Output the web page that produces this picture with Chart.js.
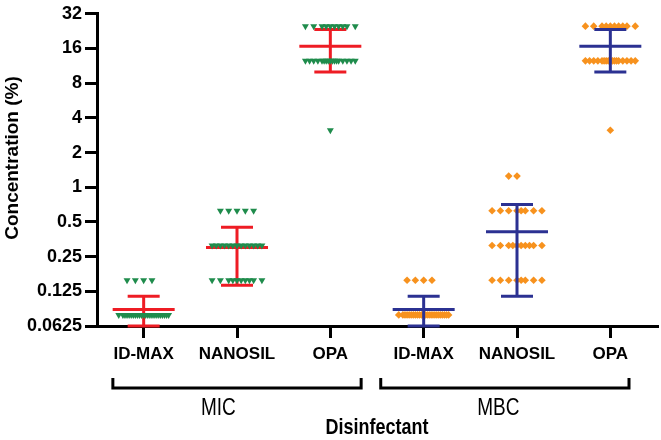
<!DOCTYPE html>
<html>
<head>
<meta charset="utf-8">
<script src="https://cdn.jsdelivr.net/npm/chart.js@4.4.1/dist/chart.umd.min.js"></script>
<style>
  html, body { margin: 0; padding: 0; background: #fff; }
  #wrap { width: 661px; height: 440px; }
</style>
</head>
<body>
<div id="wrap"><canvas id="dotplot" width="661" height="440"></canvas></div>
<script>
const categories = ['ID-MAX', 'NANOSIL', 'OPA', 'ID-MAX', 'NANOSIL', 'OPA'];
const groupNames = ['MIC', 'MBC'];
const yTicks = [0.0625, 0.125, 0.25, 0.5, 1, 2, 4, 8, 16, 32];
const yTickLabels = ['0.0625', '0.125', '0.25', '0.5', '1', '2', '4', '8', '16', '32'];

// rows of identical results: [concentration %, number of isolates]
const micIdMax = [[0.156, 4], [0.078, 24]];
const micNanosil = [[0.625, 5], [0.3125, 13], [0.156, 10]];
const micOpa = [[25, 10], [12.5, 17], [3.125, 1]];
const mbcIdMax = [[0.156, 4], [0.078, 24]];
const mbcNanosil = [[1.25, 2], [0.625, 8], [0.3125, 10], [0.156, 8]];
const mbcOpa = [[25, 10], [12.5, 17], [3.125, 1]];

// mean, mean + SD, mean - SD for each column
const micMean = [0.087, 0.30, 16.7];
const micUpper = [0.113, 0.45, 23.4];
const micLower = [0.0625, 0.141, 10.0];
const mbcMean = [0.087, 0.41, 16.7];
const mbcUpper = [0.113, 0.71, 23.4];
const mbcLower = [0.0625, 0.113, 10.0];

const FONT = '"Liberation Sans", Arial, sans-serif';
const GREEN = '#1f8c4c';
const ORANGE = '#f7921e';
const RED = '#ee1c24';
const NAVY = '#2b3192';

// horizontal spreading of tied points, like a scatter dot plot
const slotOrder = [0, -1, 1, -2, 2, -3, 3, 0.5, -0.5, 1.5, -1.5, 2.5, -2.5,
    0.25, -0.25, 0.75, -0.75, 1.25, -1.25, 1.75, -1.75, 2.25, -2.25, 2.75, -2.75];
const slot = 0.089;

function rowsToPoints(rows, col) {
    const pts = [];
    rows.forEach(([v, n]) => {
        for (let k = 0; k < n; k++) {
            pts.push({ x: col + slotOrder[k] * slot, y: v });
        }
    });
    return pts;
}

function dotSet(rows, col, isMic) {
    return {
        data: rowsToPoints(rows, col),
        pointStyle: isMic ? 'triangle' : 'rectRot',
        rotation: isMic ? 180 : 0,
        pointRadius: isMic ? 4 : 3.8,
        backgroundColor: isMic ? GREEN : ORANGE,
        borderWidth: 0,
        showLine: false,
        clip: false,
    };
}

function drawBars(chart, means, uppers, lowers, offset, color) {
    const { ctx, scales: { x, y } } = chart;
    ctx.save();
    ctx.strokeStyle = color;
    ctx.lineWidth = 3;
    means.forEach((m, i) => {
        const cx = x.getPixelForValue(i + offset);
        const ym = y.getPixelForValue(m);
        const yu = y.getPixelForValue(uppers[i]);
        const yl = y.getPixelForValue(lowers[i]);
        ctx.beginPath();
        ctx.moveTo(cx, yu);
        ctx.lineTo(cx, yl);
        ctx.moveTo(cx - 31, ym);
        ctx.lineTo(cx + 31, ym);
        ctx.moveTo(cx - 16, yu);
        ctx.lineTo(cx + 16, yu);
        ctx.moveTo(cx - 16, yl);
        ctx.lineTo(cx + 16, yl);
        ctx.stroke();
    });
    ctx.restore();
}

// text a bit taller than wide, as in the source figure
function tallText(ctx, text, cx, cy, font, stretch) {
    ctx.save();
    ctx.translate(cx, cy);
    ctx.scale(1, stretch);
    ctx.font = font;
    ctx.textAlign = 'center';
    ctx.textBaseline = 'middle';
    ctx.fillText(text, 0, 0);
    ctx.restore();
}

// group brackets under the axis, in x-axis units
const brackets = [
    { from: -0.33, to: 2.33, textAt: 0.8 },
    { from: 2.54, to: 5.2, textAt: 3.8 },
];

const annotations = {
    id: 'annotations',
    beforeDatasetsDraw(chart) {
        drawBars(chart, micMean, micUpper, micLower, 0, RED);
    },
    afterDatasetsDraw(chart) {
        drawBars(chart, mbcMean, mbcUpper, mbcLower, 3, NAVY);
    },
    afterDraw(chart) {
        const { ctx, chartArea, scales: { x } } = chart;
        ctx.save();
        ctx.fillStyle = '#000';
        ctx.strokeStyle = '#000';
        ctx.lineWidth = 3;
        brackets.forEach((b, i) => {
            const x1 = x.getPixelForValue(b.from);
            const x2 = x.getPixelForValue(b.to);
            ctx.beginPath();
            ctx.moveTo(x1, 378);
            ctx.lineTo(x1, 388);
            ctx.lineTo(x2, 388);
            ctx.lineTo(x2, 378);
            ctx.stroke();
            tallText(ctx, groupNames[i], x.getPixelForValue(b.textAt), 408, '19px ' + FONT, 1.3);
        });
        tallText(ctx, 'Disinfectant', (chartArea.left + chartArea.right) / 2, 428,
            'bold 18px ' + FONT, 1.2);

        ctx.translate(13, 158);
        ctx.rotate(-Math.PI / 2);
        ctx.font = 'bold 19px ' + FONT;
        ctx.textAlign = 'center';
        ctx.textBaseline = 'middle';
        ctx.fillText('Concentration (%)', 0, 0);
        ctx.restore();
    },
};

const axisGrid = {
    display: true,
    drawOnChartArea: false,
    drawTicks: true,
    tickLength: 12,
    lineWidth: 3,
    color: '#000',
};

new Chart(document.getElementById('dotplot'), {
    type: 'scatter',
    data: {
        datasets: [
            dotSet(micIdMax, 0, true),
            dotSet(micNanosil, 1, true),
            dotSet(micOpa, 2, true),
            dotSet(mbcIdMax, 3, false),
            dotSet(mbcNanosil, 4, false),
            dotSet(mbcOpa, 5, false),
        ],
    },
    options: {
        responsive: false,
        animation: false,
        events: [],
        layout: { padding: { top: 10, right: 3, left: 0, bottom: 0 } },
        plugins: { legend: { display: false }, tooltip: { enabled: false } },
        scales: {
            x: {
                type: 'linear',
                min: -0.5,
                max: 5.5,
                afterBuildTicks: (s) => { s.ticks = categories.map((c, i) => ({ value: i })); },
                afterFit: (s) => { s.height = 114; },
                grid: axisGrid,
                border: { display: true, color: '#000', width: 3 },
                ticks: {
                    autoSkip: false,
                    maxRotation: 0,
                    padding: 6,
                    color: '#000',
                    font: { family: FONT, size: 17, weight: 'bold' },
                    callback: (v, i) => categories[i],
                },
            },
            y: {
                type: 'logarithmic',
                min: 0.0625,
                max: 32,
                afterBuildTicks: (s) => { s.ticks = yTicks.map((v) => ({ value: v })); },
                afterFit: (s) => { s.width = 97; },
                grid: axisGrid,
                border: { display: true, color: '#000', width: 3 },
                ticks: {
                    autoSkip: false,
                    padding: 3,
                    color: '#000',
                    font: { family: FONT, size: 18, weight: 'bold' },
                    callback: (v, i) => yTickLabels[i],
                },
            },
        },
    },
    plugins: [annotations],
});
</script>
</body>
</html>
